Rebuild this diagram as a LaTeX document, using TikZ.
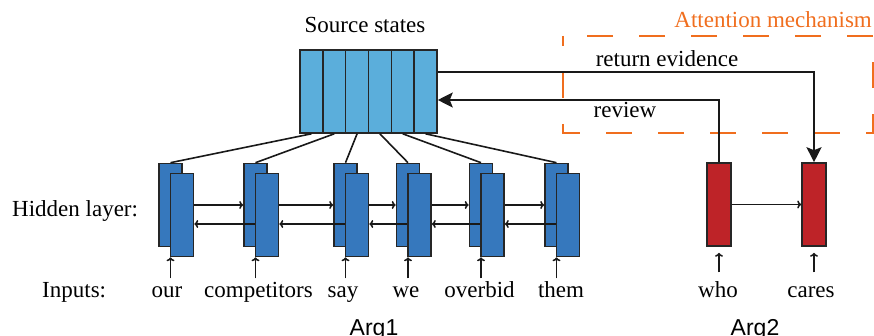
\documentclass[tikz,border=0pt]{standalone}
\usepackage{fontspec}
\setmainfont{Liberation Serif}
\setsansfont{Liberation Sans}
\usetikzlibrary{arrows.meta}

\definecolor{hidblue}{RGB}{54,120,189}
\definecolor{srcblue}{RGB}{91,174,219}
\definecolor{argred}{RGB}{190,35,40}
\definecolor{attnorange}{RGB}{240,110,30}

\tikzset{
  srccell/.style={draw=black!85, line width=1.6pt, fill=srcblue, minimum width=22.8pt, minimum height=83pt, inner sep=0pt},
  hid/.style={draw=black!85, line width=1.6pt, fill=hidblue, minimum width=23pt, minimum height=83pt, inner sep=0pt},
  argbox/.style={draw=black!85, line width=1.6pt, fill=argred, minimum width=24pt, minimum height=83pt, inner sep=0pt},
  word/.style={anchor=base, text height=16pt, text depth=5pt},
  link/.style={line width=1.6pt, black!90},
  big/.style={link, -{Stealth[length=15pt, width=15pt, inset=3pt]}},
}

\begin{document}
\begin{tikzpicture}[x=1pt, y=-1pt, font=\fontsize{23}{27}\selectfont, >={To[length=4pt, width=8pt]}]
    \useasboundingbox (0,0) rectangle (874,336);

    % zona dell'attenzione (tratteggiata)
    \draw[attnorange, line width=2pt, dash pattern=on 26pt off 26pt, dash phase=16pt] (563,36) rectangle (873,133);
    \node[attnorange, anchor=base east, inner sep=0pt] (attn) at (872,28) {Attention mechanism};

    % stati sorgente: sei celle affiancate
    \foreach \i in {1,...,6}
        \node[srccell] (s\i) at ({300+22.83*(\i-0.5)},91.5) {};
    \node[anchor=base] (srclab) at (365,33) {Source states};

    % etichette a sinistra
    \node[anchor=base west, inner sep=0pt] (hlab) at (12,217) {Hidden layer:};
    \node[anchor=base west, inner sep=0pt] (ilab) at (42,298) {Inputs:};

    % strato nascosto bidirezionale di Arg1 (cella avanti dietro, cella indietro davanti)
    \foreach \n/\x/\wx/\w in {1/170.5/167/our, 2/255.5/258.5/competitors, 3/345.5/343/say,
                             4/408/406/we, 5/481/479.5/overbid, 6/556.5/561/them} {
        \node[hid] (b\n) at (\x,205) {};
        \node[hid] (f\n) at (\x+11.5,215) {};
        \node[word] (w\n) at (\wx,298) {\w};
        \draw[link] (s\n.south) -- (b\n.north);
        \draw[link, ->] (w\n.north -| b\n) -- (b\n |- f\n.south);
    }
    \foreach \n/\m in {1/2, 2/3, 3/4, 4/5, 5/6} {
        \draw[link, ->] (b\n.center -| f\n.east) -- (b\m.west);
        \draw[link, ->] ([yshift=-9pt]f\m.west) -- ([yshift=-9pt]f\n.east);
    }

    % Arg2
    \node[argbox] (who) at (719,204.5) {};
    \node[argbox] (cares) at (814,204.5) {};
    \node[word] (wwho) at (718,298) {who};
    \node[word] (wcares) at (811,298) {cares};
    \draw[link, ->] ([yshift=6pt]wwho.north -| who) -- ([yshift=-6pt]who.south);
    \draw[link, ->] ([yshift=6pt]wcares.north -| cares) -- ([yshift=-6pt]cares.south);
    \draw[link, ->] (who) -- (cares);

    % review e return evidence
    \draw[big] (who.north) |- ([yshift=-8.5pt]s6.east);
    \draw[big] ([yshift=19.5pt]s6.east) -| (cares.north);
    \node[anchor=base] (rev) at (625,118) {review};
    \node[anchor=base] (ret) at (667,67) {return evidence};

    % nomi degli argomenti (in parte tagliati dal bordo)
    \node[anchor=base, font=\sffamily\fontsize{23}{27}\selectfont] (arg1) at (374,335) {Arg1};
    \node[anchor=base, font=\sffamily\fontsize{23}{27}\selectfont] (arg2) at (755,335) {Arg2};
\end{tikzpicture}
\end{document}
